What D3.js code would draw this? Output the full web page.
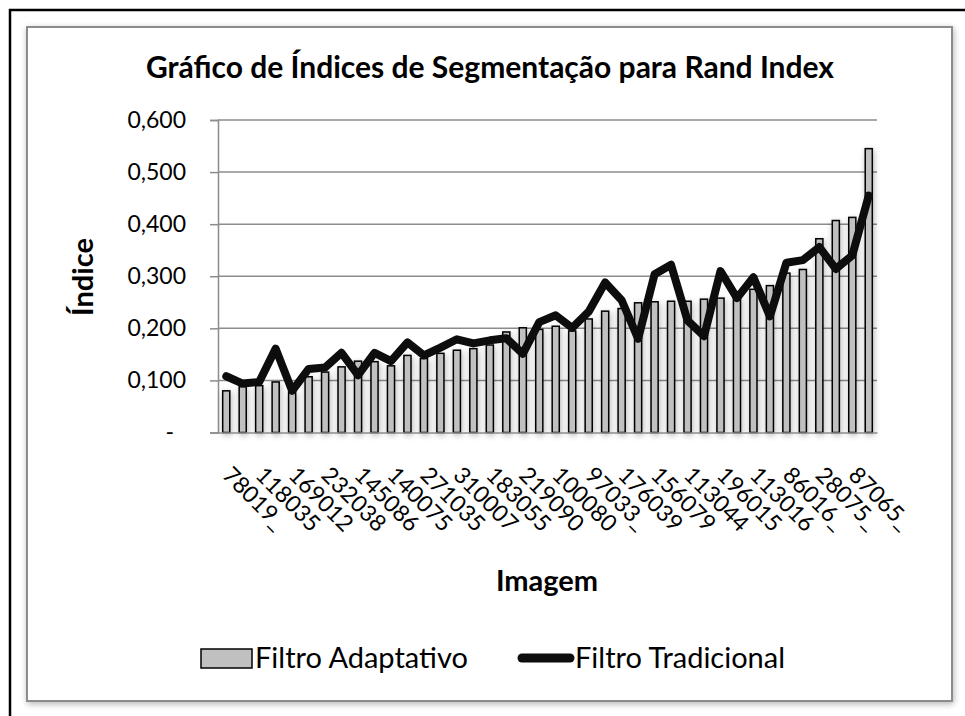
<!DOCTYPE html>
<html>
<head>
<meta charset="utf-8">
<script src="https://cdn.jsdelivr.net/npm/d3@7"></script>
<style>
body { margin: 0; background: #fff; overflow: hidden; }
text { font-family: Lato, "Open Sans", sans-serif; fill: #000; }
</style>
</head>
<body>
<script>
// shown category labels (every other image is labelled on the axis)
var labels = ["78019_", "118035", "169012", "232038", "145086", "140075", "271035", "310007", "183055", "219090",
              "100080", "97033_", "176039", "156079", "113044", "196015", "113016", "86016_", "28075_", "87065_"];

// Filtro Adaptativo (bars)
var adaptativo = [0.080, 0.088, 0.090, 0.097, 0.078, 0.107, 0.116, 0.126, 0.137, 0.136,
                  0.128, 0.148, 0.142, 0.152, 0.158, 0.161, 0.168, 0.193, 0.201, 0.198,
                  0.204, 0.195, 0.218, 0.233, 0.238, 0.249, 0.251, 0.252, 0.252, 0.256,
                  0.258, 0.260, 0.275, 0.282, 0.306, 0.313, 0.372, 0.407, 0.413, 0.545];

// Filtro Tradicional (line)
var tradicional = [0.108, 0.094, 0.097, 0.161, 0.080, 0.122, 0.125, 0.153, 0.110, 0.153,
                   0.137, 0.173, 0.148, 0.163, 0.179, 0.171, 0.177, 0.181, 0.151, 0.212,
                   0.225, 0.201, 0.232, 0.288, 0.254, 0.180, 0.304, 0.322, 0.215, 0.185,
                   0.310, 0.258, 0.298, 0.223, 0.326, 0.331, 0.356, 0.314, 0.340, 0.455];

var yTicks = [0, 0.1, 0.2, 0.3, 0.4, 0.5, 0.6];

var width = 965, height = 716;
var plot = {left: 218, right: 877, top: 120, bottom: 432.5};

var svg = d3.select("body").append("svg")
    .attr("width", width)
    .attr("height", height);

var defs = svg.append("defs");
var f = defs.append("filter").attr("id", "shadow")
    .attr("x", "-60%").attr("y", "-20%").attr("width", "220%").attr("height", "140%");
f.append("feGaussianBlur").attr("in", "SourceAlpha").attr("stdDeviation", 3);
f.append("feOffset").attr("dx", 1).attr("dy", 2).attr("result", "blur");
f.append("feComponentTransfer").append("feFuncA").attr("type", "linear").attr("slope", 0.3);
var fm = f.append("feMerge");
fm.append("feMergeNode");
fm.append("feMergeNode").attr("in", "SourceGraphic");

// frames: outer black frame only shows its left and top edges
svg.append("path")
    .attr("d", "M10," + height + "V10H" + width)
    .attr("fill", "none").attr("stroke", "#000").attr("stroke-width", 2.5);
svg.append("rect")
    .attr("x", 27).attr("y", 27)
    .attr("width", 925).attr("height", 674)
    .attr("fill", "#fff").attr("stroke", "#8c8c8c").attr("stroke-width", 2)
    .attr("filter", "url(#shadow)");

var xScale = d3.scaleBand()
    .domain(d3.range(adaptativo.length))
    .range([plot.left, plot.right])
    .paddingInner(0.57)
    .paddingOuter(0.285);

var yScale = d3.scaleLinear()
    .domain([0, 0.6])
    .range([plot.bottom, plot.top]);

// gridlines
svg.append("g").selectAll("line.grid")
    .data(yTicks.slice(1))
    .enter()
    .append("line")
    .attr("class", "grid")
    .attr("x1", plot.left).attr("x2", plot.right)
    .attr("y1", function(d){ return yScale(d); })
    .attr("y2", function(d){ return yScale(d); })
    .attr("stroke", "#8c8c8c").attr("stroke-width", 1.5);

// y axis
var yAxis = d3.axisLeft(yScale)
    .tickValues(yTicks)
    .tickSize(8)
    .tickPadding(24)
    .tickFormat(function(d){ return d === 0 ? "-" : d3.format(".3f")(d).replace(".", ","); });
var yAxisGroup = svg.append("g")
    .attr("transform", "translate(" + plot.left + ",0)")
    .call(yAxis);
yAxisGroup.select(".domain").attr("stroke", "#8c8c8c").attr("stroke-width", 1.5);
yAxisGroup.selectAll(".tick line").attr("stroke", "#8c8c8c").attr("stroke-width", 1.5);
yAxisGroup.selectAll(".tick text")
    .attr("font-size", 23)
    .attr("font-family", "Lato, sans-serif")
    .attr("dx", function(d){ return d === 0 ? -12 : 0; });

// bars
svg.append("g")
    .attr("filter", "url(#shadow)")
    .selectAll("rect.bar")
    .data(adaptativo)
    .enter()
    .append("rect")
    .attr("class", "bar")
    .attr("x", function(d, i){ return xScale(i); })
    .attr("width", xScale.bandwidth())
    .attr("y", function(d){ return yScale(d); })
    .attr("height", function(d){ return yScale(0) - yScale(d); })
    .attr("fill", "#c0c0c0")
    .attr("stroke", "#000")
    .attr("stroke-width", 1.5);

// x axis
var xAxis = d3.axisBottom(xScale)
    .tickSize(0)
    .tickFormat(function(d){ return d % 2 === 0 ? labels[d / 2] : ""; });
var xAxisGroup = svg.append("g")
    .attr("transform", "translate(0," + yScale(0) + ")")
    .call(xAxis);
xAxisGroup.select(".domain").attr("stroke", "#8c8c8c").attr("stroke-width", 1.5);
xAxisGroup.selectAll(".tick text")
    .attr("font-size", 23)
    .attr("font-family", "Lato, sans-serif")
    .attr("x", 0).attr("y", 0).attr("dy", 0)
    .attr("text-anchor", "start")
    .attr("transform", "translate(-5,44) rotate(45)");

// line series
var line = d3.line()
    .x(function(d, i){ return xScale(i) + xScale.bandwidth() / 2; })
    .y(function(d){ return yScale(d); });

svg.append("path")
    .datum(tradicional)
    .attr("d", line)
    .attr("fill", "none")
    .attr("stroke", "#0d0d0d")
    .attr("stroke-width", 8)
    .attr("stroke-linejoin", "round")
    .attr("stroke-linecap", "round");

// titles
svg.append("text")
    .attr("x", 490).attr("y", 78)
    .attr("text-anchor", "middle")
    .attr("font-size", 30).attr("font-weight", "bold")
    .text("Gráfico de Índices de Segmentação para Rand Index");

svg.append("text")
    .attr("transform", "translate(93,277) rotate(-90)")
    .attr("text-anchor", "middle")
    .attr("font-size", 29).attr("font-weight", "bold")
    .text("Índice");

svg.append("text")
    .attr("x", 547).attr("y", 591)
    .attr("text-anchor", "middle")
    .attr("font-size", 29).attr("font-weight", "bold")
    .text("Imagem");

// legend
var legend = svg.append("g");
legend.append("rect")
    .attr("x", 201).attr("y", 649)
    .attr("width", 51).attr("height", 19)
    .attr("fill", "#c0c0c0").attr("stroke", "#000").attr("stroke-width", 1.5);
legend.append("text")
    .attr("x", 255).attr("y", 668)
    .attr("font-size", 29)
    .text("Filtro Adaptativo");
legend.append("line")
    .attr("x1", 522).attr("x2", 570)
    .attr("y1", 658).attr("y2", 658)
    .attr("stroke", "#0d0d0d").attr("stroke-width", 9)
    .attr("stroke-linecap", "round");
legend.append("text")
    .attr("x", 575).attr("y", 668)
    .attr("font-size", 29)
    .text("Filtro Tradicional");
</script>
</body>
</html>
